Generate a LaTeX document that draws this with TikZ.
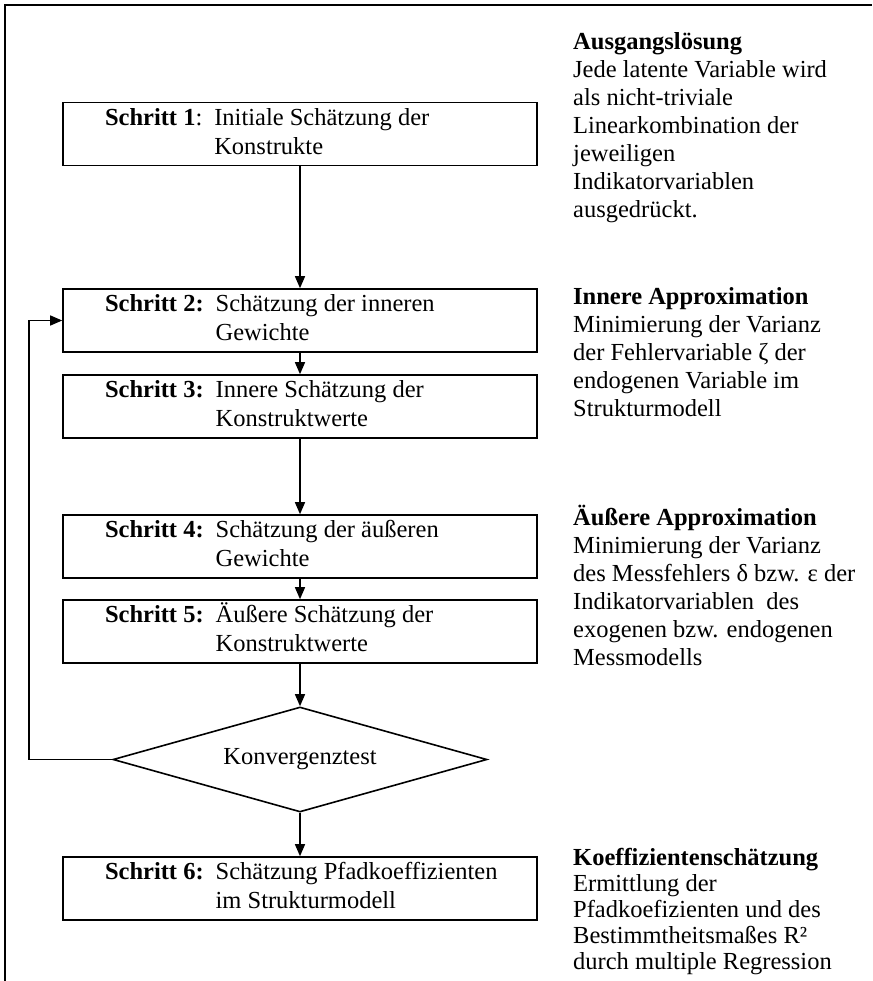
\documentclass[tikz,border=0pt]{standalone}
\usepackage{fontspec}
\setmainfont{Liberation Serif}
\usetikzlibrary{arrows.meta,shapes.geometric}
\newcommand{\mytxt}{\fontsize{24.5}{29}\selectfont}
\newcommand{\notetxt}{\fontsize{24.5}{28}\selectfont}
\newcommand{\notetxtb}{\fontsize{24.5}{26.2}\selectfont}
\newcommand{\stepcontent}[3]{\makebox[474pt][l]{\hspace{42pt}\begin{tabular}{@{}l@{\hspace{12pt}}l@{}}#1 & #2\\ & #3\end{tabular}}}
\begin{document}
\begin{tikzpicture}[x=1pt,y=-1pt,
  stepbox/.style={draw, line width=1.6pt, minimum width=474pt, minimum height=63pt, inner sep=0pt, font=\mytxt},
  conn/.style={line width=1.4pt, -{Triangle[length=12pt,width=10pt]}},
  note/.style={anchor=base west, inner sep=0pt, font=\notetxt},
  testbox/.style={draw, diamond, line width=1.6pt, aspect=3.56, minimum width=374pt, minimum height=105pt, inner sep=0pt, font=\mytxt}
]
\useasboundingbox (0,0) rectangle (872,981);
\draw[line width=1.5pt] (5,981) -- (5,5) -- (872,5);

\node[stepbox] (b1) at (300,134) {\stepcontent{\textbf{Schritt 1}:}{Initiale Schätzung der}{Konstrukte}};
\node[stepbox] (b2) at (300,320.5) {\stepcontent{\textbf{Schritt 2:}}{Schätzung der inneren}{Gewichte}};
\node[stepbox] (b3) at (300,406.5) {\stepcontent{\textbf{Schritt 3:}}{Innere Schätzung der}{Konstruktwerte}};
\node[stepbox] (b4) at (300,546.5) {\stepcontent{\textbf{Schritt 4:}}{Schätzung der äußeren}{Gewichte}};
\node[stepbox] (b5) at (300,631.5) {\stepcontent{\textbf{Schritt 5:}}{Äußere Schätzung der}{Konstruktwerte}};
\node[testbox] (kt) at (300,759.5) {Konvergenztest};
\node[stepbox] (b6) at (300,888.5) {\stepcontent{\textbf{Schritt 6:}}{Schätzung Pfadkoeffizienten}{im Strukturmodell}};

\coordinate (fbx) at (29,0);

\draw[conn] (b1) -- (b2);
\draw[conn] (b2) -- (b3);
\draw[conn] (b3) -- (b4);
\draw[conn] (b4) -- (b5);
\draw[conn] (b5) -- (kt);
\draw[conn] (kt) -- (b6);
\draw[conn] (kt.west) -- (kt.west -| fbx) |- (b2.west);

\node[note] (n1) at (573,50) {\begin{tabular}[t]{@{}l@{}}\textbf{Ausgangslösung}\\Jede latente Variable wird\\als nicht-triviale\\Linearkombination der\\jeweiligen\\Indikatorvariablen\\ausgedrückt.\end{tabular}};
\node[note] (n2) at (573,304) {\begin{tabular}[t]{@{}l@{}}\textbf{Innere Approximation}\\Minimierung der Varianz\\der Fehlervariable ζ der\\endogenen Variable im\\Strukturmodell\end{tabular}};
\node[note] (n3) at (573,525) {\begin{tabular}[t]{@{}l@{}}\textbf{Äußere Approximation}\\Minimierung der Varianz\\des Messfehlers δ bzw. ε der\\Indikatorvariablen~ des\\exogenen bzw. endogenen\\Messmodells\end{tabular}};
\node[note, font=\notetxtb] (n4) at (573,865) {\begin{tabular}[t]{@{}l@{}}\textbf{Koeffizientenschätzung}\\Ermittlung der\\Pfadkoefizienten und des\\Bestimmtheitsmaßes R²\\durch multiple Regression\end{tabular}};
\end{tikzpicture}
\end{document}
